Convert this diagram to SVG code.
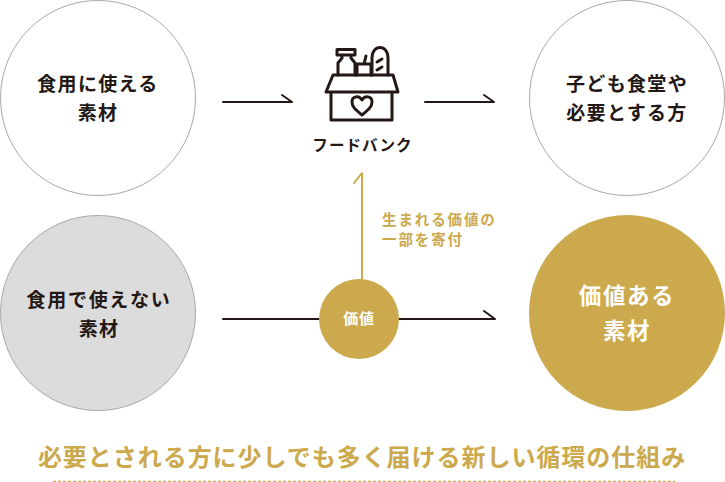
<svg xmlns="http://www.w3.org/2000/svg" width="725" height="482" viewBox="0 0 725 482">
<style>
text{font-family:"Noto Sans CJK JP","Noto Sans",sans-serif;text-anchor:middle;font-weight:700;letter-spacing:.07em}
.d{fill:#231815;font-size:19px}
.w{fill:#fff;font-size:22.500px}
.c{fill:none;stroke:#231815;stroke-width:2;stroke-linecap:round;stroke-linejoin:round}
.g{fill:none;stroke:#cca94c;stroke-width:2;stroke-linecap:round;stroke-linejoin:round}
.o{fill:#fff;stroke:#a9a9a9;stroke-width:1}
.i{fill:none;stroke:#231815;stroke-width:3;stroke-linejoin:round;stroke-linecap:round}
.l{fill:#cca94c;font-size:14.500px;text-anchor:start;letter-spacing:.13em}
</style>
<rect width="725" height="482" fill="#fff"/>
<g id="connectors">
<path class="c" d="M223 102H292L282 95"/>
<path class="c" d="M425 102H494L484 95"/>
<path class="c" d="M223 319H495L484 311"/>
<path class="g" d="M362 280V173L354 183"/>
</g>
<g id="n1"><circle class="o" cx="98" cy="98" r="97.500"/><text class="d" x="98" y="91">食用に使える</text><text class="d" x="98" y="120">素材</text></g>
<g id="n2"><circle class="o" cx="627" cy="98" r="97.500"/><text class="d" x="627" y="91">子ども食堂や</text><text class="d" x="627" y="120">必要とする方</text></g>
<g id="n3"><circle cx="98" cy="313" r="97.500" fill="#dcdcdc" stroke="#a9a9a9"/><text class="d" x="99" y="307" style="letter-spacing:.09em">食用で使えない</text><text class="d" x="99" y="336">素材</text></g>
<g id="n4"><circle cx="627" cy="313" r="98" fill="#cca94c"/><text class="w" x="627" y="304">価値ある</text><text class="w" x="627" y="339">素材</text></g>
<g id="n5"><circle cx="359" cy="319" r="40" fill="#cca94c"/><text x="359" y="324" style="font-size:15px;letter-spacing:.05em" fill="#fff">価値</text></g>
<g id="foodbank">
<path class="i" d="M333 75H393L398 92H326ZM331 92V120H392V92"/>
<path class="i" d="M338 75V63L342 58V55H351V58L355 63V75M337 49.500H355V55H337Z"/>
<path class="i" d="M357 75V64H371V75M364 64L366 56"/>
<path class="i" d="M372 75V58C372 44 388 44 388 58V75M377 62L382 59M377 70L382 67"/>
<path class="i" d="M362 115C356 110 352 107 352 102C352 96 359 95 362 100C365 95 372 96 372 102C372 107 368 110 362 115Z"/>
<text x="362.500" y="151" style="font-size:15.500px;letter-spacing:.07em" fill="#231815">フードバンク</text>
</g>
<g id="label"><text class="l" x="382" y="225">生まれる価値の</text><text class="l" x="382" y="245">一部を寄付</text></g>
<g id="footer"><text x="362" y="466" style="font-size:24px;letter-spacing:.04em" fill="#cca94c">必要とされる方に少しでも多く届ける新しい循環の仕組み</text><path d="M53 481.500H675" stroke="#cca94c" stroke-width="1.500" stroke-dasharray="3 2" fill="none"/></g>
</svg>
